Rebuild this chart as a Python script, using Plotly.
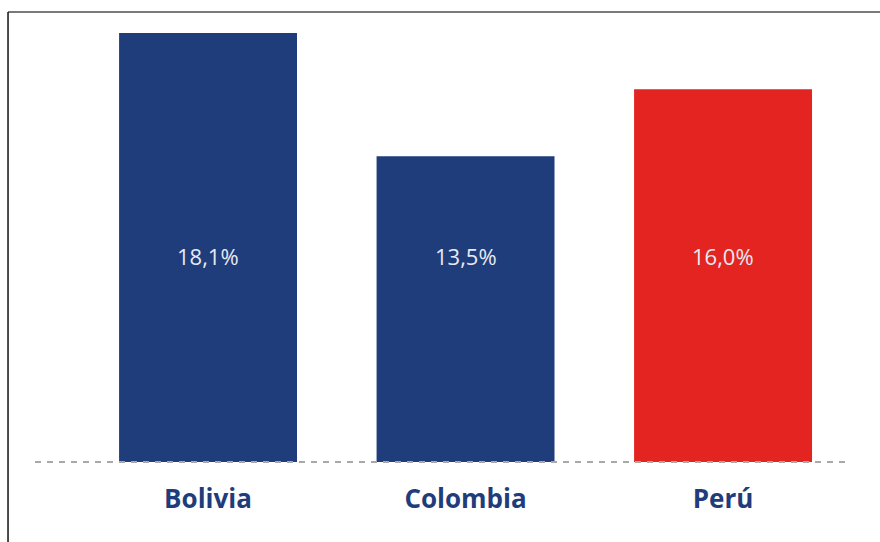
import plotly.graph_objects as go

# Data
countries = ["Bolivia", "Colombia", "Perú"]
values = [18.1, 13.5, 16.0]
bar_colors = ["#1f3c7b", "#1f3c7b", "#e32421"]

labels = [f"{v:.1f}".replace(".", ",") + "%" for v in values]

fig = go.Figure()
fig.add_trace(go.Bar(
    x=countries,
    y=values,
    marker=dict(color=bar_colors, line=dict(width=0)),
    hoverinfo="skip",
))

# Value labels placed at a common height inside the bars
for c, lab in zip(countries, labels):
    fig.add_annotation(
        x=c, xref="x", y=0.48, yref="paper",
        text=lab, showarrow=False,
        font=dict(family="Open Sans", size=22, color="#e6eaf2"),
        xanchor="center", yanchor="middle",
    )

shapes = [
    # dashed baseline
    dict(type="line", xref="paper", yref="paper", x0=0, x1=1, y0=0, y1=0,
         line=dict(color="#a9a9a9", width=2, dash="6px,6px"), layer="above"),
    # frame: top and left edges
    dict(type="line", xref="paper", yref="paper", x0=-0.0331, x1=1.04, y0=1.049, y1=1.049,
         line=dict(color="#7a7a7a", width=2), layer="above"),
    dict(type="line", xref="paper", yref="paper", x0=-0.0331, x1=-0.0331, y0=1.049, y1=-0.2,
         line=dict(color="#111111", width=1.5), layer="above"),
]

fig.update_layout(
    width=880, height=542,
    margin=dict(l=35, r=30, t=33, b=80),
    paper_bgcolor="white", plot_bgcolor="white",
    showlegend=False,
    bargap=0.309,
    shapes=shapes,
    xaxis=dict(
        range=[-0.672, 2.493],
        showgrid=False, zeroline=False, showline=False, ticks="",
        tickfont=dict(family="Open Sans", size=26, color="#1f3c7b", weight="bold"),
        ticklabelstandoff=19,
        fixedrange=True,
    ),
    yaxis=dict(
        range=[2.1, 18.1],
        showgrid=False, zeroline=False, showline=False,
        showticklabels=False, ticks="",
        fixedrange=True,
    ),
)

fig.write_html("out.html")
